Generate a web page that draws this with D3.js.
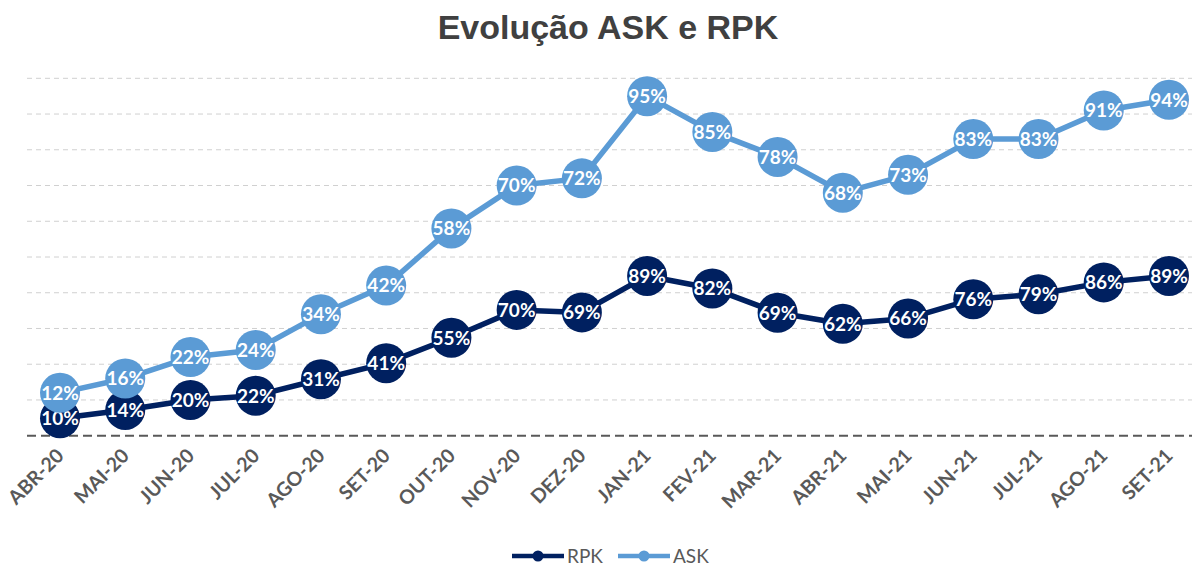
<!DOCTYPE html>
<html>
<head>
<meta charset="utf-8">
<title>Evolução ASK e RPK</title>
<script src="https://d3js.org/d3.v7.min.js"></script>
<style>
  body { margin: 0; background: #fff; }
  text { font-family: "Lato", "Open Sans", sans-serif; }
</style>
</head>
<body>
<svg width="1192" height="569"></svg>
<script>

// months on the x axis
var months = ["ABR-20","MAI-20","JUN-20","JUL-20","AGO-20","SET-20","OUT-20","NOV-20","DEZ-20",
              "JAN-21","FEV-21","MAR-21","ABR-21","MAI-21","JUN-21","JUL-21","AGO-21","SET-21"];

// ASK: label (%) and plotted value are the same
var askValues = [12,16,22,24,34,42,58,70,72,95,85,78,68,73,83,83,91,94];

// RPK: labels shown on the markers
var rpkLabels = [10,14,20,22,31,41,55,70,69,89,82,69,62,66,76,79,86,89];
// RPK: plotted heights (hidden axis, 0-100)
var rpkPlot = [4.9,7.2,10,11.2,15.8,20.3,27.4,35.2,34.5,44.7,41.2,34.4,31.3,32.8,38.2,39.6,42.9,44.7];

var gridTicks = d3.range(0, 101, 10);

var svg = d3.select("svg"),
  width = +svg.attr("width"),
  height = +svg.attr("height");

var askColor = "#5b9bd5",
  rpkColor = "#002060";

var x = d3.scaleBand()
  .domain(months)
  .range([27.4, 1201.6]);

var y = d3.scaleLinear()
  .domain([0, 100])
  .range([435.7, 78.3]);

function cx(d, i) { return x(months[i]) + x.bandwidth() / 2; }

// title
svg.append("text")
  .attr("x", 608)
  .attr("y", 39)
  .attr("text-anchor", "middle")
  .style("font-family", "'Liberation Sans', Arial, sans-serif")
  .style("font-weight", "bold")
  .style("font-size", "34px")
  .style("fill", "#404040")
  .text("Evolução ASK e RPK");

// gridlines
svg.append("g")
  .selectAll("line")
  .data(gridTicks.filter(function(t) { return t > 0; }))
  .enter().append("line")
  .attr("x1", 27)
  .attr("x2", width)
  .attr("y1", function(d) { return y(d); })
  .attr("y2", function(d) { return y(d); })
  .attr("stroke", "#d0d0d0")
  .attr("stroke-width", 1)
  .attr("stroke-dasharray", "5,4");

// baseline
svg.append("line")
  .attr("x1", 27)
  .attr("x2", width)
  .attr("y1", y(0))
  .attr("y2", y(0))
  .attr("stroke", "#595959")
  .attr("stroke-width", 2)
  .attr("stroke-dasharray", "9,5");

// x labels
svg.append("g")
  .selectAll("text")
  .data(months)
  .enter().append("text")
  .attr("transform", function(d) {
    return "translate(" + (x(d) + x.bandwidth() / 2 + 5) + ",457) rotate(-45)";
  })
  .attr("text-anchor", "end")
  .style("font-weight", "bold")
  .style("font-size", "19.5px")
  .style("fill", "#595959")
  .text(function(d) { return d; });

var line = d3.line()
  .x(cx)
  .y(function(d) { return y(d); });

function drawSeries(plot, labels, color) {
  svg.append("path")
    .datum(plot)
    .attr("d", line)
    .attr("fill", "none")
    .attr("stroke", color)
    .attr("stroke-width", 5.5)
    .attr("stroke-linejoin", "round");

  var g = svg.append("g")
    .selectAll("g")
    .data(plot)
    .enter().append("g")
    .attr("transform", function(d, i) {
      return "translate(" + cx(d, i) + "," + y(d) + ")";
    });

  g.append("circle")
    .attr("r", 20)
    .attr("fill", color);

  g.append("text")
    .attr("text-anchor", "middle")
    .attr("dy", "0.36em")
    .style("font-weight", "bold")
    .style("font-size", "19px")
    .style("fill", "#fff")
    .text(function(d, i) { return labels[i] + "%"; });
}

drawSeries(rpkPlot, rpkLabels, rpkColor);
drawSeries(askValues, askValues, askColor);

// legend
var legend = svg.append("g");
var items = [
  { name: "RPK", color: rpkColor, x: 512 },
  { name: "ASK", color: askColor, x: 618 }
];
items.forEach(function(it) {
  legend.append("line")
    .attr("x1", it.x).attr("x2", it.x + 52)
    .attr("y1", 556).attr("y2", 556)
    .attr("stroke", it.color)
    .attr("stroke-width", 4.5);
  legend.append("circle")
    .attr("cx", it.x + 26).attr("cy", 556)
    .attr("r", 5.5)
    .attr("fill", it.color);
  legend.append("text")
    .attr("x", it.x + 55)
    .attr("y", 556)
    .attr("dy", "0.36em")
    .style("font-size", "19px")
    .style("fill", "#595959")
    .text(it.name);
});

</script>
</body>
</html>
